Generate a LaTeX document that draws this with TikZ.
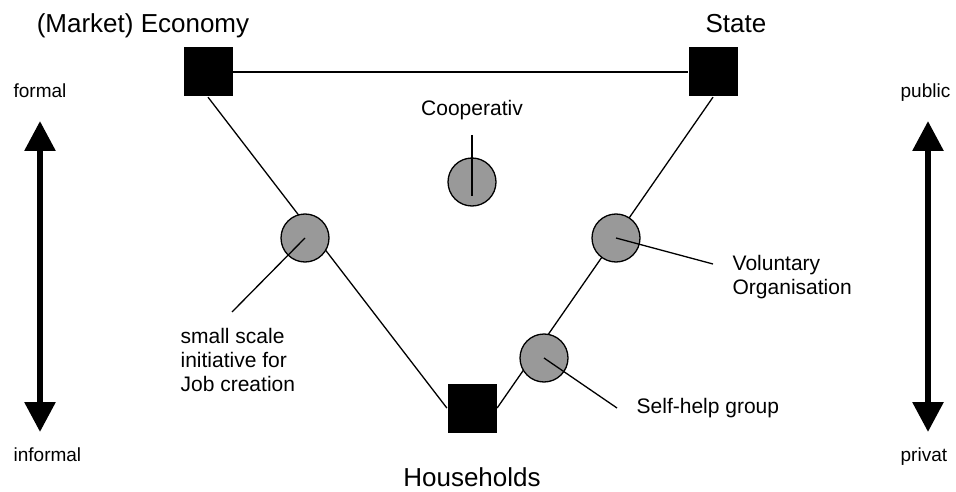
\documentclass[tikz,border=0pt]{standalone}
\usepackage{fontspec}
\setmainfont{Liberation Sans}
\usetikzlibrary{arrows.meta}
\usetikzlibrary{math}

\begin{document}
\begin{tikzpicture}[x=1pt,y=-1pt,line width=1.3pt,
  sector/.style={fill=black,minimum size=49pt,inner sep=0pt},
  org/.style={circle,draw=black,fill=black!40,minimum size=48pt,inner sep=0pt},
  bigtext/.style={font=\fontsize{26}{31}\selectfont,inner sep=0pt},
  midtext/.style={font=\fontsize{21}{24}\selectfont,inner sep=0pt,align=left},
  smalltext/.style={font=\fontsize{19}{22}\selectfont,inner sep=0pt},
  scalearrow/.style={line width=6pt,
    {Triangle[width=30pt,length=30pt]}-{Triangle[width=30pt,length=30pt]}}]

  \useasboundingbox (0,0) rectangle (956,492);

  \tikzmath{
    \leftx    = 40;  % x of formal/informal arrow
    \rightx   = 928; % x of public/privat arrow
    \arrowtop = 121; % arrow tips
    \arrowbot = 432;
  }

  % the three sectors
  \node[sector] (econ)  at (208,72)  {};
  \node[sector] (state) at (713,72)  {};
  \node[sector] (house) at (472,408) {};

  \node[bigtext, anchor=base] (econlabel)  at (143,33)  {(Market) Economy};
  \node[bigtext, anchor=base] (statelabel) at (736,33)  {State};
  \node[bigtext, anchor=base] (houselabel) at (472,486) {Households};

  % triangle
  \draw (econ) -- (state);
  \draw (econ.south) -- (house.west);
  \draw (state.south) -- (house.east);

  % organisations in between
  \node[org] (coop)     at (472,182) {};
  \node[org] (jobs)     at (305,238) {};
  \node[org] (vol)      at (616,238) {};
  \node[org] (selfhelp) at (544,358) {};

  % labels and leader lines
  \node[midtext, anchor=base] (cooplabel) at (472,116) {Cooperativ};
  \coordinate (cooptop) at (472,135);
  \coordinate (coopend) at (472,196);
  \draw (cooptop) -- (coopend);

  \coordinate (jobsend) at (232,312);
  \draw (jobs.center) -- (jobsend);
  \node[midtext, anchor=north west] (jobslabel) at (180,328)
    {small scale\\initiative for\\Job creation};

  \coordinate (volend) at (713,264);
  \draw (vol.center) -- (volend);
  \node[midtext, anchor=north west] (vollabel) at (732,255)
    {Voluntary\\Organisation};

  \coordinate (selfend) at (617,408);
  \draw (selfhelp.center) -- (selfend);
  \node[midtext, anchor=base west] (selflabel) at (636,413) {Self-help group};

  % scales on both sides
  \node[smalltext, anchor=base west] (formal)   at (13,98)   {formal};
  \node[smalltext, anchor=base west] (informal) at (13,461)  {informal};
  \coordinate (ltop) at (\leftx,\arrowtop);
  \coordinate (lbot) at (\leftx,\arrowbot);
  \draw[scalearrow] (ltop) -- (lbot);

  \node[smalltext, anchor=base west] (public) at (900,98)  {public};
  \node[smalltext, anchor=base west] (privat) at (900,461) {privat};
  \coordinate (rtop) at (\rightx,\arrowtop);
  \coordinate (rbot) at (\rightx,\arrowbot);
  \draw[scalearrow] (rtop) -- (rbot);

\end{tikzpicture}
\end{document}
